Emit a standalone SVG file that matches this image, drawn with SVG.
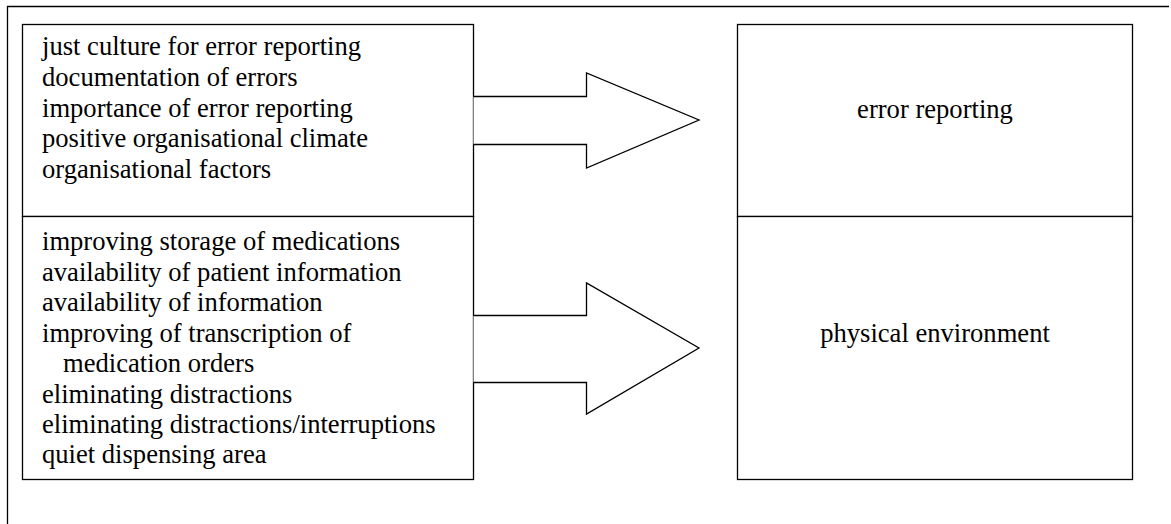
<svg xmlns="http://www.w3.org/2000/svg" width="1171" height="524" viewBox="0 0 1171 524">
<style>
.box{fill:#fff;stroke:#000;stroke-width:1.3}
.arrow{fill:#fff;stroke:#000;stroke-width:1.3;stroke-linejoin:miter}
.frame{fill:none;stroke:#000;stroke-width:1.3}
text{font-family:"Liberation Serif","Times New Roman",serif;font-size:26.6px;fill:#000}
.c{text-anchor:middle}
</style>
<rect width="1171" height="524" fill="#fff"/>
<path class="frame" d="M7.5,524 V6.5 H1169"/>
<g id="left-top">
<rect class="box" x="22.5" y="24.5" width="451" height="192"/>
<text x="42" y="55">just culture for error reporting</text>
<text x="42" y="86">documentation of errors</text>
<text x="42" y="117">importance of error reporting</text>
<text x="42" y="147">positive organisational climate</text>
<text x="42" y="178">organisational factors</text>
</g>
<g id="left-bottom">
<rect class="box" x="22.5" y="216.5" width="451" height="263"/>
<text x="42" y="250">improving storage of medications</text>
<text x="42" y="280.5">availability of patient information</text>
<text x="42" y="311">availability of information</text>
<text x="42" y="341.5">improving of transcription of</text>
<text x="63" y="372">medication orders</text>
<text x="42" y="402.5">eliminating distractions</text>
<text x="42" y="433">eliminating distractions/interruptions</text>
<text x="42" y="463">quiet dispensing area</text>
</g>
<g id="right-top">
<rect class="box" x="737.5" y="24.5" width="395" height="192"/>
<text class="c" x="935" y="118">error reporting</text>
</g>
<g id="right-bottom">
<rect class="box" x="737.5" y="216.5" width="395" height="263"/>
<text class="c" x="935" y="342">physical environment</text>
</g>
<g id="connectors">
<path class="arrow" d="M473.5,96.5 H586.5 V73 L699,120 L586.5,168 V144.5 H473.5"/>
<path class="arrow" d="M473.5,315.5 H586.5 V283 L699,348 L586.5,414 V382.5 H473.5"/>
</g>
</svg>
